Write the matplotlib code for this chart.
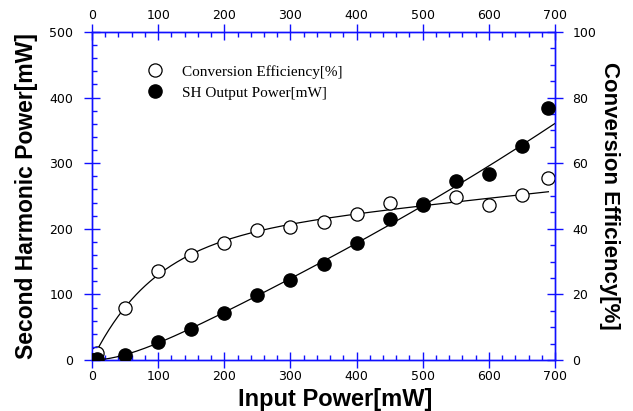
import numpy as np
import matplotlib
matplotlib.use("Agg")
import matplotlib.pyplot as plt
from matplotlib.ticker import MultipleLocator
from matplotlib.lines import Line2D

# ---- data ----
power_in = [0, 4, 8, 50, 100, 150, 200, 250, 300, 350, 400, 450, 500, 550, 600, 650, 690]
sh_power = [0, 0.2, 0.8, 7.6, 27, 47.7, 71.2, 99, 121.5, 146.8, 177.9, 215, 236, 273, 284, 326.7, 384.6]

eff_in = [8, 50, 100, 150, 200, 250, 300, 350, 400, 450, 500, 550, 600, 650, 690]
efficiency = [2.2, 16, 27, 32, 35.8, 39.6, 40.4, 42.1, 44.4, 47.8, 47.5, 49.6, 47.3, 50.3, 55.6]

x_ticks = [0, 100, 200, 300, 400, 500, 600, 700]
left_ticks = [0, 100, 200, 300, 400, 500]
right_ticks = [0, 20, 40, 60, 80, 100]

# ---- smooth fit: E(x) = A(1-exp(-x/B)) + C x  (least squares, grid on B) ----
# the last point (690 mW) is treated as an outlier, as in the reference fit
ex = np.array(eff_in[:-1], float)
ey = np.array(efficiency[:-1], float)
best = None
for B in np.linspace(20, 400, 381):
    M = np.column_stack([1 - np.exp(-ex / B), ex])
    coef, *_ = np.linalg.lstsq(M, ey, rcond=None)
    r = np.sum((M @ coef - ey) ** 2)
    if best is None or r < best[0]:
        best = (r, B, coef)
_, Bf, (Af, Cf) = best


def eff_model(x):
    return Af * (1 - np.exp(-x / Bf)) + Cf * x


xe = np.linspace(5, 690, 300)
xp = np.linspace(0, 700, 300)

BLUE = "#1010ff"

fig = plt.figure(figsize=(6.33, 4.11), dpi=100)
ax = fig.add_axes([92 / 633, 1 - 360 / 411, 463 / 633, 328 / 411])
ax2 = ax.twinx()

ax.plot(xp, xp * eff_model(xp) / 100, color="black", lw=0.9, zorder=2)
ax.plot(power_in, sh_power, "o", ms=9.5, mfc="black", mec="black", zorder=4)
ax2.plot(xe, eff_model(xe), color="black", lw=0.9, zorder=2)
ax2.plot(eff_in, efficiency, "o", ms=9.5, mfc="white", mec="black", mew=0.9, zorder=3)

ax.set_zorder(ax2.get_zorder() + 1)
ax.patch.set_visible(False)

ax.set_xlim(0, 700)
ax.set_ylim(0, 500)
ax2.set_ylim(0, 100)

ax.set_xticks(x_ticks)
ax.set_yticks(left_ticks)
ax2.set_yticks(right_ticks)
ax.xaxis.set_minor_locator(MultipleLocator(20))
ax.yaxis.set_minor_locator(MultipleLocator(20))
ax2.yaxis.set_minor_locator(MultipleLocator(5))

for a in (ax, ax2):
    for s in a.spines.values():
        s.set_color(BLUE)
        s.set_linewidth(1.0)

tick_font = dict(labelsize=9, labelcolor="black")
ax.tick_params(axis="x", which="major", direction="inout", length=11, width=1.0, color=BLUE,
               top=True, labeltop=True, bottom=True, pad=2, **tick_font)
ax.tick_params(axis="x", which="minor", direction="in", length=3.5, width=1.0, color=BLUE,
               top=True, bottom=True)
ax.tick_params(axis="y", which="major", direction="inout", length=11, width=1.0, color=BLUE,
               left=True, right=False, pad=8, **tick_font)
ax.tick_params(axis="y", which="minor", direction="in", length=3.5, width=1.0, color=BLUE,
               left=True, right=False)
ax2.tick_params(axis="y", which="major", direction="inout", length=11, width=1.0, color=BLUE,
                right=True, left=False, pad=7, **tick_font)
ax2.tick_params(axis="y", which="minor", direction="in", length=3.5, width=1.0, color=BLUE,
                right=True, left=False)

label_font = dict(family="Liberation Sans", weight="bold")
ax.set_ylabel("Second Harmonic Power[mW]", fontsize=16.5, labelpad=8, **label_font)
ax2.set_ylabel("Conversion Efficiency[%]", fontsize=16, rotation=270, labelpad=17, **label_font)
ax.set_xlabel("Input Power[mW]", fontsize=17, labelpad=4, **label_font)
ax.xaxis.set_label_coords(0.525, -0.085)

handles = [
    Line2D([], [], ls="none", marker="o", ms=9.5, mfc="white", mec="black", mew=0.9),
    Line2D([], [], ls="none", marker="o", ms=9.5, mfc="black", mec="black"),
]
ax.legend(handles, ["Conversion Efficiency[%]", "SH Output Power[mW]"],
          loc="upper left", bbox_to_anchor=(0.1195, 0.9), frameon=False,
          prop=dict(family="Liberation Serif", size=11),
          handlelength=1.0, handletextpad=1.27, labelspacing=0.48,
          borderpad=0, borderaxespad=0)

fig.savefig("out.png", dpi=100)
